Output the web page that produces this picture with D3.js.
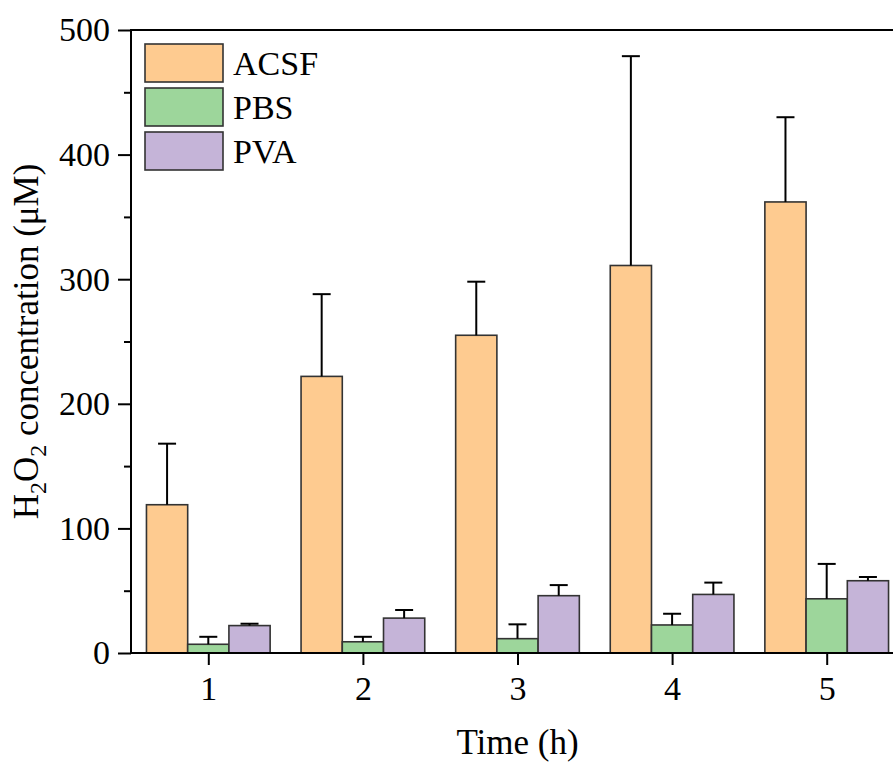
<!DOCTYPE html>
<html>
<head>
<meta charset="utf-8">
<script src="https://cdn.jsdelivr.net/npm/d3@7"></script>
<style>
  html, body { margin: 0; padding: 0; background: #fff; overflow: hidden; }
  svg { display: block; font-family: "Liberation Serif", "Times New Roman", serif; }
</style>
</head>
<body>
<svg id="chart" width="893" height="763"></svg>
<script>
// Time points (h)
const times = [1, 2, 3, 4, 5];
const seriesNames = ["ACSF", "PBS", "PVA"];
// Mean H2O2 concentration (μM)
const acsfMean = [119, 222, 255, 311, 362];
const pbsMean  = [7, 9, 11.5, 22.5, 43.5];
const pvaMean  = [22, 28, 46, 47, 58];
// Upper error (SD)
const acsfErr = [49, 66, 43, 168, 68];
const pbsErr  = [6, 4, 11.5, 9, 28];
const pvaErr  = [1.5, 6.5, 8.5, 9.5, 3];
const yTicks = [0, 100, 200, 300, 400, 500];
const yMinorTicks = [50, 150, 250, 350, 450];

const colors = ["#FECB90", "#9DD69B", "#C5B4D8"];
const means = [acsfMean, pbsMean, pvaMean];
const errs = [acsfErr, pbsErr, pvaErr];

const FONT = "'Liberation Serif', 'Times New Roman', serif";
const svg = d3.select("#chart");
const plotLeft = 131, plotTop = 30, plotBottom = 653;
const x = d3.scaleLinear().domain([0.5, 5.5]).range([plotLeft, plotLeft + 154.6 * 5]);
const y = d3.scaleLinear().domain([0, 500]).range([plotBottom, plotTop]);
const barW = 0.8 / 3; // in category units

// bars
const g = svg.append("g");
seriesNames.forEach((name, s) => {
  const offset = (s - 1) * barW;
  times.forEach((t, i) => {
    const cx = t + offset;
    const x0 = x(cx - barW / 2), x1 = x(cx + barW / 2);
    g.append("rect")
      .attr("x", x0).attr("y", y(means[s][i]))
      .attr("width", x1 - x0).attr("height", y(0) - y(means[s][i]))
      .attr("fill", colors[s]).attr("stroke", "#333").attr("stroke-width", 1.6);
    // upper error bar
    const xm = x(cx);
    const ytop = y(means[s][i] + errs[s][i]);
    g.append("line").attr("x1", xm).attr("x2", xm)
      .attr("y1", y(means[s][i])).attr("y2", ytop)
      .attr("stroke", "#000").attr("stroke-width", 2);
    g.append("line").attr("x1", xm - 9).attr("x2", xm + 9)
      .attr("y1", ytop).attr("y2", ytop)
      .attr("stroke", "#000").attr("stroke-width", 2);
  });
});

// axes
const yAxis = d3.axisLeft(y).tickValues(yTicks).tickSize(13).tickPadding(8).tickFormat(d3.format("d"));
const yg = svg.append("g").attr("transform", `translate(${plotLeft},0)`).call(yAxis)
  .attr("font-family", FONT).attr("font-size", 34);
yg.select(".domain").remove();
yg.selectAll(".tick line").attr("stroke-width", 2);
yg.selectAll("text").attr("fill", "#000");
const yMinor = svg.append("g").attr("transform", `translate(${plotLeft},0)`)
  .call(d3.axisLeft(y).tickValues(yMinorTicks).tickSize(7).tickFormat(""));
yMinor.select(".domain").remove();
yMinor.selectAll(".tick line").attr("stroke-width", 2);

const xAxis = d3.axisBottom(x).tickValues(times).tickSize(12).tickPadding(11).tickFormat(d3.format("d"));
const xg = svg.append("g").attr("transform", `translate(0,${plotBottom})`).call(xAxis)
  .attr("font-family", FONT).attr("font-size", 34);
xg.select(".domain").remove();
xg.selectAll(".tick line").attr("stroke-width", 2);
xg.selectAll("text").attr("fill", "#000");

// frame lines
svg.append("line").attr("x1", plotLeft).attr("x2", 893).attr("y1", plotBottom).attr("y2", plotBottom)
  .attr("stroke", "#000").attr("stroke-width", 2);
svg.append("line").attr("x1", plotLeft).attr("x2", 893).attr("y1", plotTop).attr("y2", plotTop)
  .attr("stroke", "#000").attr("stroke-width", 2);
svg.append("line").attr("x1", plotLeft).attr("x2", plotLeft).attr("y1", plotTop - 1).attr("y2", plotBottom + 1)
  .attr("stroke", "#000").attr("stroke-width", 2);

// axis titles
svg.append("text").attr("x", x(3)).attr("y", 754).attr("text-anchor", "middle")
  .attr("font-size", 35).text("Time (h)");
const yt = svg.append("text").attr("transform", `translate(38,${(plotTop + plotBottom) / 2}) rotate(-90)`)
  .attr("text-anchor", "middle").attr("font-size", 35);
yt.append("tspan").text("H");
yt.append("tspan").attr("font-size", 24).attr("dy", 8).text("2");
yt.append("tspan").attr("dy", -8).text("O");
yt.append("tspan").attr("font-size", 24).attr("dy", 8).text("2");
yt.append("tspan").attr("dy", -8).text(" concentration (μM)");

// legend
const lg = svg.append("g");
seriesNames.forEach((name, s) => {
  const yy = 44 + s * 44;
  lg.append("rect").attr("x", 145).attr("y", yy).attr("width", 78).attr("height", 38)
    .attr("fill", colors[s]).attr("stroke", "#333").attr("stroke-width", 1.6);
  lg.append("text").attr("x", 233).attr("y", yy + 31).attr("font-size", 34).text(name);
});
</script>
</body>
</html>
